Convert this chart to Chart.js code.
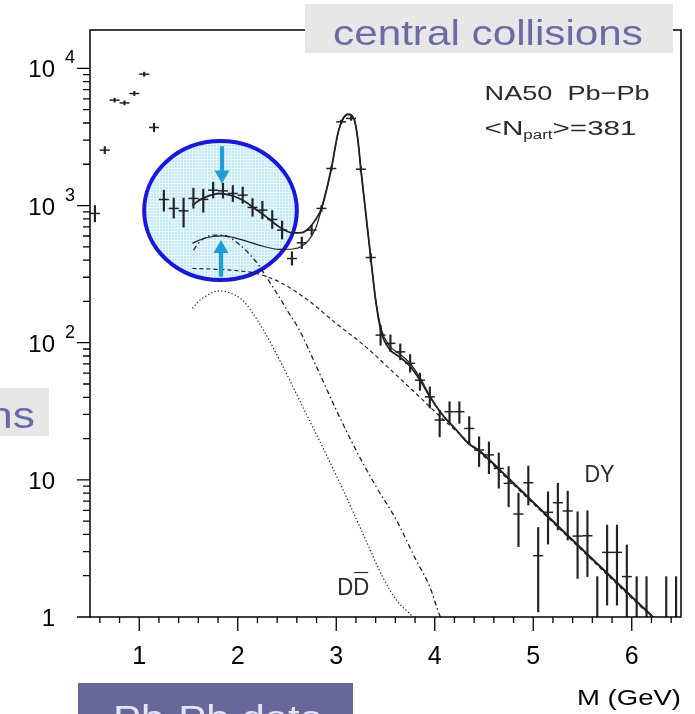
<!DOCTYPE html>
<html>
<head>
<meta charset="utf-8">
<script src="https://cdn.jsdelivr.net/npm/chart.js@4.4.1/dist/chart.umd.min.js"></script>
<style>
  html, body { margin: 0; padding: 0; background: #fff; overflow: hidden; }
  canvas { display: block; }
</style>
</head>
<body>
<canvas id="c" width="695" height="714"></canvas>
<script>
// NA50 Pb-Pb dimuon invariant-mass spectrum, central collisions

// measured bins (GeV) with counts and error-bar ends
const massBins = [0.55,0.65,0.75,0.85,0.95,1.05,1.15,1.25,1.35,1.45,1.55,1.65,1.75,1.85,1.95,2.05,2.15,2.25,2.35,2.45,2.55,2.65,2.75,2.85,2.95,3.05,3.15,3.25,3.35,3.45,3.55,3.65,3.75,3.85,3.95,4.05,4.15,4.25,4.35,4.45,4.55,4.65,4.75,4.85,4.95,5.05,5.15,5.25,5.35,5.45,5.55,5.65,5.75,5.85,5.95,6.05,6.15,6.35,6.45];
const counts   = [876,2535,5866,5605,6560,9075,3710,1107,953,915,1127,1109,1294,1280,1225,1191,969,926,792,662,411,535,662,953,1862,4074,4315,1841,418,113.6,98.9,85.8,70.7,53.3,40.3,27.3,31.4,31.4,23.7,16.5,15.2,12.1,9.43,5.63,9.53,2.8,5.8,6.81,5.93,3.89,3.91,0,2.96,2.96,1.97,0,0,0,0];
const errLow   = [761,2390,5670,5420,6340,8770,3460,910,809,696,957,895,1133,1133,1070,1040,835,800,680,570,368,485,610,905,1800,3950,4180,1780,390,96,86,75,61,45,33.4,20.6,25.8,25.8,18.4,12.5,11.1,8.7,6.36,3.26,6.55,1.09,3.4,4.31,3.64,1.91,1.97,0.5,1.22,1.22,0.5,0.5,0.5,0.5,0.5];
const errHigh  = [1000,2690,6070,5800,6790,9390,3980,1295,1133,1133,1339,1318,1481,1457,1400,1365,1125,1075,920,770,460,590,720,1000,1925,4200,4450,1905,447,134,114,98,82,60,47.6,32.2,37.1,37.1,28.9,20.6,18.9,15.7,12.5,8.0,12.6,4.5,8.18,9.44,8.27,5.85,5.95,1.97,4.68,4.68,3.35,1.97,1.97,1.97,1.97];

// fit including the intermediate-mass excess
const fitMass  = [1.54,1.6,1.68,1.75,1.81,1.9,2.0,2.1,2.15,2.29,2.42,2.56,2.65,2.72,2.78,2.85,2.95,3.02,3.07,3.12,3.185,3.22,3.25,3.30,3.35,3.40,3.456,3.54,3.64,3.74,3.85,3.96,4.08,4.22,4.34,4.455,4.7,5.0,5.5,6.0,6.25];
const fitTotal = [1007,1080,1156,1200,1224,1200,1140,1040,977,827,700,632,635,680,770,953,1862,3445,4315,4637,4190,3000,1841,876,418,204,120,90,79,68.7,53.4,39.3,29.7,23.1,18.5,16.3,11.1,6.88,3.11,1.41,0.95];

// sum of expected sources
const expMass  = [1.54,1.65,1.75,1.85,1.95,2.08,2.25,2.42,2.56,2.65,2.72,2.79,2.85,2.95,3.02,3.07,3.12,3.185,3.22,3.25,3.30,3.35,3.40,3.456,3.54,3.64,3.74,3.85,3.96,4.08,4.22,4.34,4.455,4.7,5.0,5.5,6.0,6.25];
const expTotal = [530,575,595,602,586,553,507,479,482,505,560,680,940,1850,3420,4290,4610,4170,2990,1835,872,416,206,126,95,83,72,55.6,39.8,29.7,23.0,18.4,16.1,11.0,6.8,3.07,1.39,0.94];

// Drell-Yan
const dyMass   = [1.54,1.75,2.02,2.19,2.42,2.69,3.0,3.3,3.61,3.85,4.02,4.22,4.455,4.7,5.0,5.5,6.0,6.25];
const dyValues = [348,344,334,320,278,210,138,93.3,58,40,30.5,22.6,15.9,10.8,6.7,3.03,1.37,0.93];

// open charm (DD-bar)
const ddMass   = [1.54,1.6,1.68,1.8,1.92,2.05,2.15,2.26,2.46,2.66,2.86,3.07,3.27,3.47,3.61,3.76,3.85];
const ddValues = [178,200,219,239,231,204,165,124,66.7,34.1,17.4,8.43,4.07,1.97,1.33,1.03,0.85];

// enhanced open charm
const ccMass   = [1.55,1.6,1.65,1.75,1.85,1.96,2.08,2.2,2.29,2.355,2.42,2.52,2.62,2.8,3.0,3.2,3.405,3.61,3.81,3.95,4.05,4.1];
const ccValues = [473,530,570,609,609,559,473,378,302,255,216,164,126,66.7,32.3,16.5,8.9,5.1,2.6,1.66,1.03,0.88];

// axis ticks
const xTickValues = [1, 2, 3, 4, 5, 6];
const xTickLabels = ['1', '2', '3', '4', '5', '6'];
const yTickValues = [1, 10, 100, 1000, 10000];
const yTickBase   = ['1', '10', '10', '10', '10'];
const yTickExp    = ['', '', '2', '3', '4'];

// highlighted region and its arrows (mass, counts)
const ringMass   = [1.05, 2.6];
const ringCounts = [286, 2950];
const arrowMass  = [1.84, 1.83];
const arrowFrom  = [2710, 302];
const arrowTo    = [1449, 560];

const FONT = '"Liberation Sans", Arial, Helvetica, sans-serif';
const INK = '#222';

const canvas = document.getElementById('c');

function meshPattern(ctx) {
  const t = document.createElement('canvas');
  t.width = 3; t.height = 3;
  const g = t.getContext('2d');
  g.fillStyle = '#bfe8f9'; g.fillRect(0, 0, 3, 3);
  g.fillStyle = '#e8f8fe'; g.fillRect(0, 0, 3, 1); g.fillRect(0, 0, 1, 3);
  return ctx.createPattern(t, 'repeat');
}

// draw runs of text on a common baseline, stretched to a given width
function stretchText(ctx, runs, x, y, width) {
  let natural = 0;
  runs.forEach(r => {
    ctx.font = r.size + 'px ' + FONT;
    r.w = ctx.measureText(r.t).width;
    natural += r.w;
  });
  const k = width / natural;
  ctx.save();
  ctx.translate(x, y);
  ctx.scale(k, 1);
  ctx.textAlign = 'left';
  ctx.textBaseline = 'alphabetic';
  let cx = 0;
  runs.forEach(r => {
    ctx.font = r.size + 'px ' + FONT;
    ctx.fillText(r.t, cx, r.dy || 0);
    r.x0 = x + cx * k; r.x1 = x + (cx + r.w) * k;
    cx += r.w;
  });
  ctx.restore();
  return runs;
}

function arrow(ctx, x, y0, y1) {
  const dir = Math.sign(y1 - y0), headL = 13, headW = 7.5, shaftW = 2.1;
  const yb = y1 - dir * headL;
  ctx.beginPath();
  ctx.moveTo(x - shaftW, y0);
  ctx.lineTo(x + shaftW, y0);
  ctx.lineTo(x + shaftW, yb);
  ctx.lineTo(x + headW, yb);
  ctx.lineTo(x, y1);
  ctx.lineTo(x - headW, yb);
  ctx.lineTo(x - shaftW, yb);
  ctx.closePath();
  ctx.fill();
}

const decorations = {
  id: 'decorations',
  beforeDatasetsDraw(chart) {
    const { ctx, scales: { x, y } } = chart;
    const l = x.getPixelForValue(ringMass[0]), r = x.getPixelForValue(ringMass[1]);
    const t = y.getPixelForValue(ringCounts[1]), b = y.getPixelForValue(ringCounts[0]);
    ctx.save();
    ctx.beginPath();
    ctx.ellipse((l + r) / 2, (t + b) / 2, (r - l) / 2, (b - t) / 2, 0, 0, Math.PI * 2);
    ctx.fillStyle = meshPattern(ctx);
    ctx.fill();
    ctx.lineWidth = 4;
    ctx.strokeStyle = '#1616e8';
    ctx.stroke();
    ctx.restore();
  },
  afterDraw(chart) {
    const { ctx, chartArea: a, scales: { x, y } } = chart;
    ctx.save();

    // frame
    ctx.strokeStyle = '#000';
    ctx.lineWidth = 1.5;
    ctx.strokeRect(a.left, a.top, a.right - a.left, a.bottom - a.top);

    // y ticks (outside, left)
    ctx.lineWidth = 1.3;
    ctx.beginPath();
    for (let e = 0; e <= 4; e++) {
      for (let k = 1; k <= 9; k++) {
        const v = k * Math.pow(10, e);
        if (v > y.max) break;
        const py = y.getPixelForValue(v);
        const len = k === 1 ? 13 : 7;
        ctx.moveTo(a.left - len, py);
        ctx.lineTo(a.left, py);
      }
    }
    // x ticks (outside, below)
    for (let m = 0.6; m <= x.max + 1e-6; m += 0.2) {
      const px = x.getPixelForValue(m);
      const major = Math.abs(m - Math.round(m)) < 1e-6;
      ctx.moveTo(px, a.bottom);
      ctx.lineTo(px, a.bottom + (major ? 14 : 6));
    }
    ctx.stroke();

    // y tick labels with exponents
    ctx.fillStyle = '#000';
    yTickValues.forEach((v, i) => {
      const py = y.getPixelForValue(v);
      ctx.font = '24px ' + FONT;
      ctx.textAlign = 'right';
      ctx.textBaseline = 'alphabetic';
      ctx.fillText(yTickBase[i], a.left - 35, py + 9);
      if (yTickExp[i]) {
        ctx.font = '18px ' + FONT;
        ctx.textAlign = 'left';
        ctx.fillText(yTickExp[i], a.left - 25, py - 5);
      }
    });

    // arrows inside the highlighted region
    ctx.fillStyle = '#1f9dd8';
    arrowMass.forEach((m, i) => {
      arrow(ctx, x.getPixelForValue(m), y.getPixelForValue(arrowFrom[i]), y.getPixelForValue(arrowTo[i]));
    });

    // in-frame labels
    ctx.fillStyle = '#2b2b2b';
    stretchText(ctx, [{ t: 'NA50  Pb\u2212Pb', size: 21 }], x.getPixelForValue(4.506), y.getPixelForValue(5866), 165);
    stretchText(ctx, [
      { t: '<', size: 21 }, { t: 'N', size: 21 }, { t: 'part', size: 12, dy: 4 }, { t: '>=381', size: 21 }
    ], x.getPixelForValue(4.506), y.getPixelForValue(3258), 152);
    stretchText(ctx, [{ t: 'DY', size: 24 }], x.getPixelForValue(5.52), y.getPixelForValue(9.64), 30);
    const dd = stretchText(ctx, [{ t: 'D', size: 24 }, { t: 'D', size: 24 }], x.getPixelForValue(3.01), y.getPixelForValue(1.446), 32);
    const by = y.getPixelForValue(1.446);
    ctx.strokeStyle = '#2b2b2b';
    ctx.lineWidth = 1.2;
    ctx.beginPath();
    ctx.moveTo(dd[1].x0 + 1, by - 22.5);
    ctx.lineTo(dd[1].x1 - 1, by - 22.5);
    ctx.stroke();

    // axis title
    ctx.fillStyle = '#000';
    stretchText(ctx, [{ t: 'M (GeV)', size: 22 }], 577, 705, 104);

    // caption boxes
    ctx.fillStyle = '#e7e7e7';
    ctx.fillRect(305, 4, 368, 49);
    ctx.fillRect(0, 388, 49, 48);
    ctx.fillStyle = '#6a6aa6';
    stretchText(ctx, [{ t: 'central collisions', size: 35 }], 333, 45, 310);
    ctx.font = '37px ' + FONT;
    const nsW = ctx.measureText('ns').width * 1.2;
    stretchText(ctx, [{ t: 'ns', size: 37 }], 35 - nsW, 428, nsW);
    ctx.fillStyle = '#67679b';
    ctx.fillRect(78, 683, 275, 40);
    ctx.fillStyle = '#e4e4f2';
    ctx.font = '35px ' + FONT;
    const pbW = ctx.measureText('Pb-Pb data').width * 1.2;
    stretchText(ctx, [{ t: 'Pb-Pb data', size: 35 }], 113, 730, pbW);

    ctx.restore();
  }
};

const pts = (xs, ys) => xs.map((m, i) => ({ x: m, y: ys[i] }));
const curve = {
  type: 'line', pointRadius: 0, fill: false, borderColor: INK,
  cubicInterpolationMode: 'monotone'
};

new Chart(canvas, {
  type: 'scatter',
  data: {
    datasets: [
      { ...curve, label: 'Pb-Pb data', type: 'scatter',
        data: massBins.map((m, i) => ({ x: m, y: counts[i] > 0 ? counts[i] : null })),
        pointStyle: 'line', pointRadius: 5, pointBorderWidth: 1.5,
        pointBorderColor: INK, borderColor: INK, showLine: false, clip: 0 },
      { label: 'stat. errors', type: 'bar',
        data: massBins.map((m, i) => ({ x: m, y: [errLow[i], errHigh[i]] })),
        backgroundColor: INK, borderWidth: 0, barThickness: 1.5, clip: 0 },
      { ...curve, label: 'total fit', data: pts(fitMass, fitTotal), borderWidth: 1.8 },
      { ...curve, label: 'expected sources', data: pts(expMass, expTotal), borderWidth: 1.2 },
      { ...curve, label: 'DY', data: pts(dyMass, dyValues), borderWidth: 1.2, borderDash: [4, 3] },
      { ...curve, label: 'DD', data: pts(ddMass, ddValues), borderWidth: 1.2, borderDash: [1.3, 2.2] },
      { ...curve, label: 'charm enhanced', data: pts(ccMass, ccValues), borderWidth: 1.3, borderDash: [5, 3, 1.5, 3] }
    ]
  },
  options: {
    responsive: false,
    animation: false,
    devicePixelRatio: 1,
    events: [],
    layout: { padding: { top: 30, right: 14, left: 0, bottom: 0 } },
    plugins: { legend: { display: false }, tooltip: { enabled: false } },
    scales: {
      x: {
        type: 'linear', min: 0.5, max: 6.5, offset: false,
        grid: { display: false, drawTicks: false, offset: false },
        border: { display: false },
        afterBuildTicks: s => { s.ticks = xTickValues.map(v => ({ value: v })); },
        afterFit: s => { s.height = 97; },
        ticks: {
          autoSkip: false, maxRotation: 0, padding: 25, color: '#000',
          font: { family: FONT, size: 25 },
          callback: (v, i) => xTickLabels[i]
        }
      },
      y: {
        type: 'logarithmic', min: 1, max: 19055, bounds: 'data',
        grid: { display: false, drawTicks: false },
        border: { display: false },
        afterBuildTicks: s => { s.ticks = yTickValues.map(v => ({ value: v })); },
        afterFit: s => { s.width = 90; },
        ticks: { display: false }
      }
    }
  },
  plugins: [decorations]
});
</script>
</body>
</html>
